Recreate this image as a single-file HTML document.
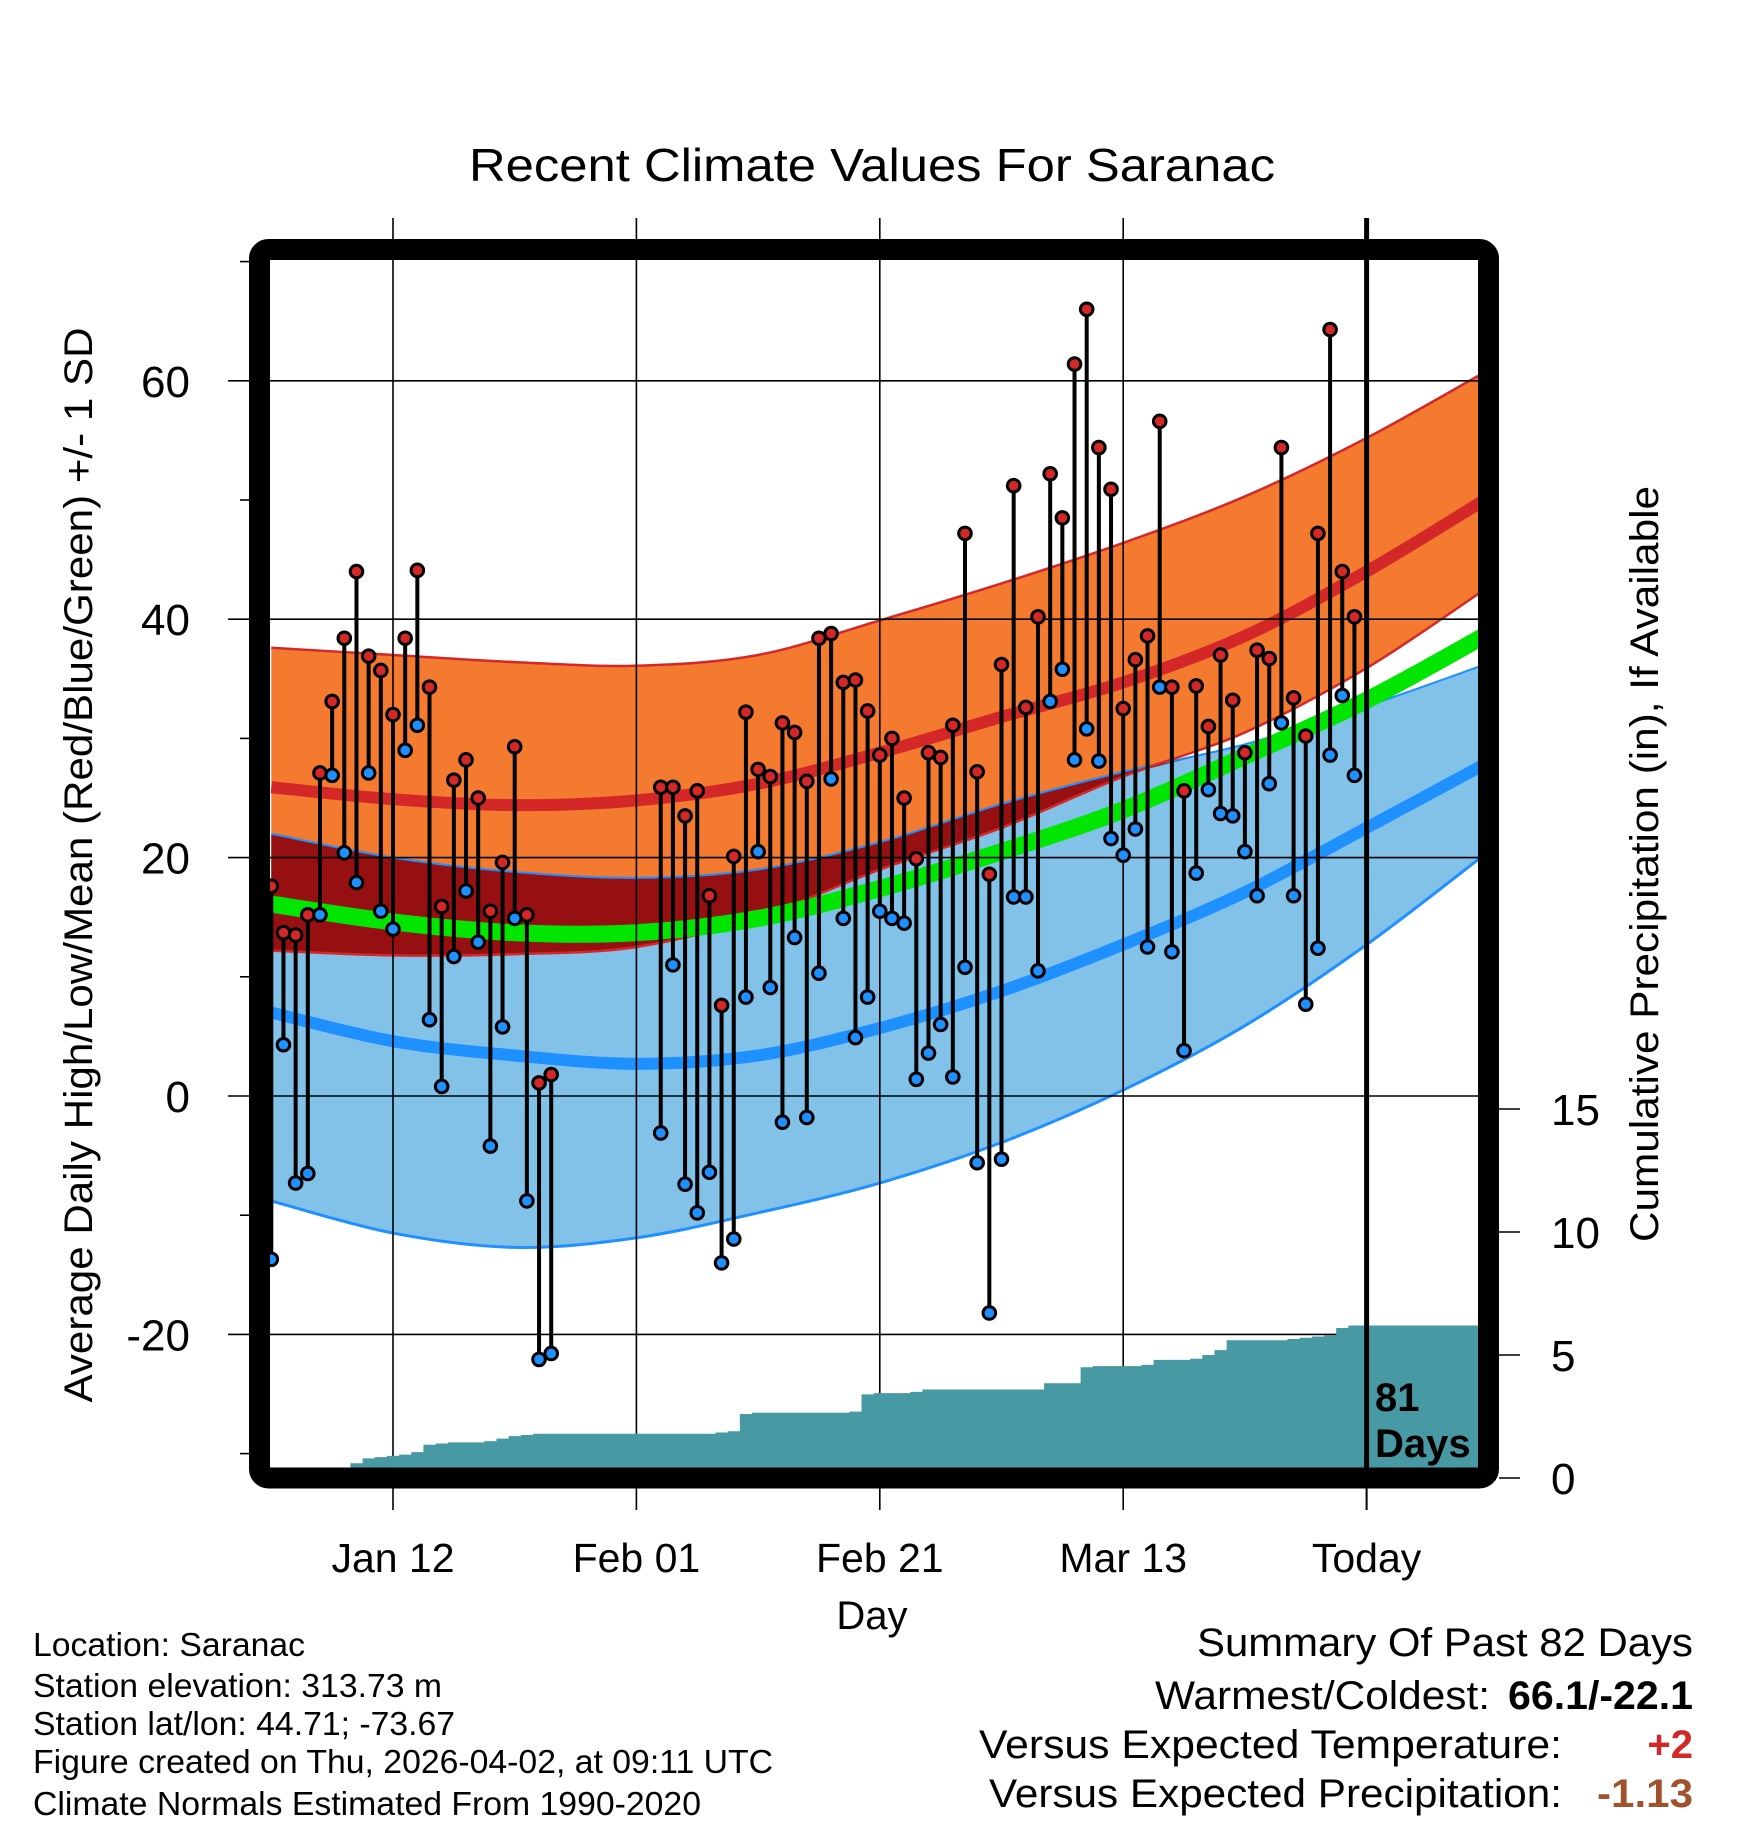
<!DOCTYPE html>
<html><head><meta charset="utf-8"><style>
html,body{margin:0;padding:0;background:#fff;}
svg{display:block;font-family:"Liberation Sans",Arial,sans-serif;}
</style></head><body>
<svg id="chart" width="1748" height="1828" viewBox="0 0 1748 1828" xmlns="http://www.w3.org/2000/svg">
<defs><clipPath id="plotclip"><rect x="270" y="260" width="1208" height="1208"/></clipPath></defs>
<text x="872" y="181" font-size="46" text-anchor="middle" textLength="806" lengthAdjust="spacingAndGlyphs">Recent Climate Values For Saranac</text>
<g id="bands" clip-path="url(#plotclip)"></g>
<g id="grid"></g>
<g id="precip" clip-path="url(#plotclip)"></g>
<g id="marks" clip-path="url(#plotclip)"></g>
<g id="axes"></g>
<text x="1375" y="1411" font-size="40" font-weight="bold">81</text>
<text x="1375" y="1457" font-size="40" font-weight="bold">Days</text>
<text transform="translate(92,865) rotate(-90)" font-size="40" text-anchor="middle" textLength="1075" lengthAdjust="spacingAndGlyphs">Average Daily High/Low/Mean (Red/Blue/Green) +/- 1 SD</text>
<text transform="translate(1658,864) rotate(-90)" font-size="40" text-anchor="middle" textLength="756" lengthAdjust="spacingAndGlyphs">Cumulative Precipitation (in), If Available</text>
<text x="872" y="1629" font-size="40" text-anchor="middle">Day</text>
<g font-size="33">
<text x="33" y="1656" textLength="272" lengthAdjust="spacingAndGlyphs">Location: Saranac</text>
<text x="33" y="1697" textLength="409" lengthAdjust="spacingAndGlyphs">Station elevation: 313.73 m</text>
<text x="33" y="1735" textLength="422" lengthAdjust="spacingAndGlyphs">Station lat/lon: 44.71; -73.67</text>
<text x="33" y="1773" textLength="740" lengthAdjust="spacingAndGlyphs">Figure created on Thu, 2026-04-02, at 09:11 UTC</text>
<text x="33" y="1815" textLength="668" lengthAdjust="spacingAndGlyphs">Climate Normals Estimated From 1990-2020</text>
</g>
<g font-size="40">
<text x="1693" y="1656" text-anchor="end" textLength="496" lengthAdjust="spacingAndGlyphs">Summary Of Past 82 Days</text>
<text x="1490" y="1709" text-anchor="end" textLength="335" lengthAdjust="spacingAndGlyphs">Warmest/Coldest:</text>
<text x="1693" y="1709" text-anchor="end" font-weight="bold" textLength="185" lengthAdjust="spacingAndGlyphs">66.1/-22.1</text>
<text x="1562" y="1758" text-anchor="end" textLength="583" lengthAdjust="spacingAndGlyphs">Versus Expected Temperature:</text>
<text x="1693" y="1758" text-anchor="end" font-weight="bold" fill="#d42828">+2</text>
<text x="1562" y="1807" text-anchor="end" textLength="573" lengthAdjust="spacingAndGlyphs">Versus Expected Precipitation:</text>
<text x="1693" y="1807" text-anchor="end" font-weight="bold" fill="#a0522d" textLength="96" lengthAdjust="spacingAndGlyphs">-1.13</text>
</g>
</svg>
<script>
// ---- data ----
const bandDays = [0,10,20,30,40,50,60,70,80,90,100];
const hiPlus  = [37.6,37.0,36.4,36.1,37.0,39.9,43.0,46.4,50.3,55.2,60.9];
const hiMean  = [25.9,24.9,24.4,24.8,26.2,28.8,31.8,34.7,38.6,44.0,50.2];
const hiMinus = [12.2,11.8,11.9,12.5,15.0,19.0,22.5,26.8,30.5,35.9,42.7];
const loPlus  = [22.0,20.0,18.8,18.3,19.0,21.3,24.5,27.2,29.5,32.7,36.3];
const loMean  = [7.0,4.6,3.4,2.7,3.4,5.7,8.8,12.7,17.1,22.5,28.0];
const loMinus = [-8.8,-11.5,-12.7,-11.9,-9.8,-7.3,-3.9,0.5,5.9,12.7,20.5];
const avgMean = [16.1,14.6,13.7,13.7,14.9,17.4,20.5,24.0,28.5,33.2,38.8];
const highs = [17.6,13.7,13.5,15.2,27.1,33.1,38.4,44.0,36.9,35.7,32.0,38.4,44.1,34.3,15.9,26.5,28.2,25.0,15.5,19.6,29.3,15.2,1.1,1.8,
 null,null,null,null,null,null,null,null,
 25.9,25.9,23.5,25.6,16.8,7.6,20.1,32.2,27.4,26.8,31.3,30.5,26.4,38.4,38.8,34.7,34.9,32.3,28.6,30.0,25.0,19.9,28.8,28.4,31.1,47.2,27.2,18.6,36.2,51.2,32.6,40.2,52.2,48.5,61.4,66.0,54.4,50.9,32.5,36.6,38.6,56.6,34.3,25.6,34.4,31.0,37.0,33.2,28.8,37.4,36.7,54.4,33.4,30.2,47.2,64.3,44.0,40.2];
const lows = [-13.7,4.3,-7.3,-6.5,15.2,26.9,20.4,17.9,27.1,15.5,14.0,29.0,31.1,6.4,0.8,11.7,17.2,12.9,-4.2,5.8,14.9,-8.8,-22.1,-21.6,
 null,null,null,null,null,null,null,null,
 -3.1,11.0,-7.4,-9.8,-6.4,-14.0,-12.0,8.3,20.5,9.1,-2.2,13.3,-1.8,10.3,26.6,14.9,4.9,8.3,15.5,14.9,14.5,1.4,3.6,6.0,1.6,10.8,-5.6,-18.2,-5.3,16.7,16.7,10.5,33.1,35.8,28.2,30.8,28.1,21.6,20.2,22.4,12.5,34.3,12.1,3.8,18.7,25.7,23.7,23.5,20.5,16.8,26.2,31.3,16.8,7.7,12.4,28.6,33.6,26.9];
const precipCum = [0,0,0,0,0,0.1,0.3,0.6,0.8,0.85,0.9,0.95,1.05,1.35,1.4,1.45,1.45,1.45,1.5,1.6,1.7,1.75,1.8,1.8,1.8,1.8,1.8,1.8,1.8,1.8,1.8,1.8,1.8,1.8,1.8,1.8,1.8,1.85,1.9,2.6,2.65,2.65,2.65,2.65,2.65,2.65,2.65,2.65,2.7,3.4,3.45,3.45,3.45,3.5,3.6,3.6,3.6,3.6,3.6,3.6,3.6,3.6,3.6,3.6,3.85,3.85,3.85,4.5,4.55,4.55,4.55,4.55,4.6,4.8,4.8,4.8,4.85,5.0,5.2,5.6,5.6,5.6,5.6,5.6,5.65,5.7,5.75,5.8,6.1,6.2];
const tempTicks = [60,40,20,0,-20];
const tempMinor = [70,50,30,10,-10,-30];
const precipTicks = [0,5,10,15];
const dateTicks = [10,30,50,70,90];
const dateLabels = ["Jan 12","Feb 01","Feb 21","Mar 13","Today"];

// ---- scales ----
const NS="http://www.w3.org/2000/svg";
function X(d){return 393+(d-10)*12.17;}
function Y(t){return 1096-t*11.92;}
function P(p){return 1478-p*24.6;}
function el(tag,attrs,parent){const e=document.createElementNS(NS,tag);for(const k in attrs)e.setAttribute(k,attrs[k]);parent.appendChild(e);return e;}
function pts(arr){return bandDays.map((d,i)=>[X(d),Y(arr[i])]);}
function curve(p){let s="";for(let i=0;i<p.length-1;i++){const p0=p[Math.max(i-1,0)],p1=p[i],p2=p[i+1],p3=p[Math.min(i+2,p.length-1)];
 const c1=[p1[0]+(p2[0]-p0[0])/6,p1[1]+(p2[1]-p0[1])/6],c2=[p2[0]-(p3[0]-p1[0])/6,p2[1]-(p3[1]-p1[1])/6];
 if(i===0)s+="M"+p1[0]+","+p1[1];s+=" C"+c1[0]+","+c1[1]+" "+c2[0]+","+c2[1]+" "+p2[0]+","+p2[1];}return s;}
function rcurve(p){return curve(p.slice().reverse()).replace(/^M/,"L");}
const bands=document.getElementById('bands');
let e;
e=el('path',{d:curve(pts(loPlus))+" "+rcurve(pts(loMinus))+"Z",fill:"#82c1e8",stroke:"none"},bands);


e=el('path',{d:curve(pts(hiPlus))+" "+rcurve(pts(hiMinus))+"Z",fill:"#f47a30",stroke:"none"},bands);


const ovTop=loPlus, ovBot=loPlus.map((v,i)=>Math.min(v,hiMinus[i]));
e=el('path',{d:curve(pts(ovTop))+" "+rcurve(pts(ovBot))+"Z",fill:"#961012",stroke:"none"},bands);


[[hiPlus,"#d42828",2.5],[loPlus,"#1e90ff",2],[loMinus,"#1e90ff",3],[hiMinus,"#d42828",2.5]].forEach(([a,c,w])=>{
 e=el('path',{d:curve(pts(a)),fill:"none",stroke:c,"stroke-width":w},bands);
 
 
});
e=el('path',{d:curve(pts(hiMean)),fill:"none",stroke:"#d42828","stroke-width":12},bands);


e=el('path',{d:curve(pts(loMean)),fill:"none",stroke:"#1e90ff","stroke-width":12},bands);


e=el('path',{d:curve(pts(avgMean)),fill:"none",stroke:"#00e600","stroke-width":17},bands);



const grid=document.getElementById('grid');
tempTicks.forEach(t=>{e=el('line',{x1:228,x2:1478,y1:Y(t),y2:Y(t),stroke:"#000","stroke-width":1.6},grid);
 
 });
dateTicks.forEach((d,i)=>{e=el('line',{x1:X(d),x2:X(d),y1:218,y2:1510,stroke:"#000","stroke-width":i===4?2:1.6},grid);
 
 });

const pg=document.getElementById('precip');
let pd="M270,1478";
precipCum.forEach((v,i)=>{const x0=i===0?270:X(i)-6.08;pd+=" L"+x0+","+P(v)+" L"+(X(i)+6.08)+","+P(v);});
pd+=" L1478,"+P(precipCum[precipCum.length-1])+" L1478,1478Z";
e=el('path',{d:pd,fill:"#4799a3",stroke:"none"},pg);



e=el('line',{x1:X(90),x2:X(90),y1:218,y2:1468,stroke:"#000","stroke-width":5},pg.parentNode);



const mg=document.getElementById('marks');
highs.forEach((h,i)=>{const l=lows[i];if(h===null||l===null)return;
 e=el('line',{x1:X(i),x2:X(i),y1:Y(h),y2:Y(l),stroke:"#000","stroke-width":4},mg);
 
 });
highs.forEach((h,i)=>{const l=lows[i];if(h===null||l===null)return;
 e=el('circle',{cx:X(i),cy:Y(h),r:6.3,fill:"#d42828",stroke:"#000","stroke-width":3},mg);
 
 
 e=el('circle',{cx:X(i),cy:Y(l),r:6.3,fill:"#1e90ff",stroke:"#000","stroke-width":3},mg);
 
 });

const ax=document.getElementById('axes');
e=el('rect',{x:259.5,y:249.5,width:1229,height:1228.5,rx:9,fill:"none",stroke:"#000","stroke-width":21},ax);


tempMinor.forEach(t=>{e=el('line',{x1:240,x2:250,y1:Y(t),y2:Y(t),stroke:"#000","stroke-width":1.6},ax);
 
 });
tempTicks.forEach(t=>{e=el('text',{x:190,y:Y(t)+16,"font-size":44,"text-anchor":"end"},ax);e.textContent=String(t);
 
 });
precipTicks.forEach(p=>{e=el('line',{x1:1499,x2:1520,y1:P(p),y2:P(p),stroke:"#000","stroke-width":1.6},ax);
 
 
 e=el('text',{x:1551,y:P(p)+16,"font-size":44},ax);e.textContent=String(p);
 
 });
dateTicks.forEach((d,i)=>{e=el('text',{x:X(d),y:1572,"font-size":41,"text-anchor":"middle"},ax);e.textContent=dateLabels[i];
 
 });
</script>
</body></html>
